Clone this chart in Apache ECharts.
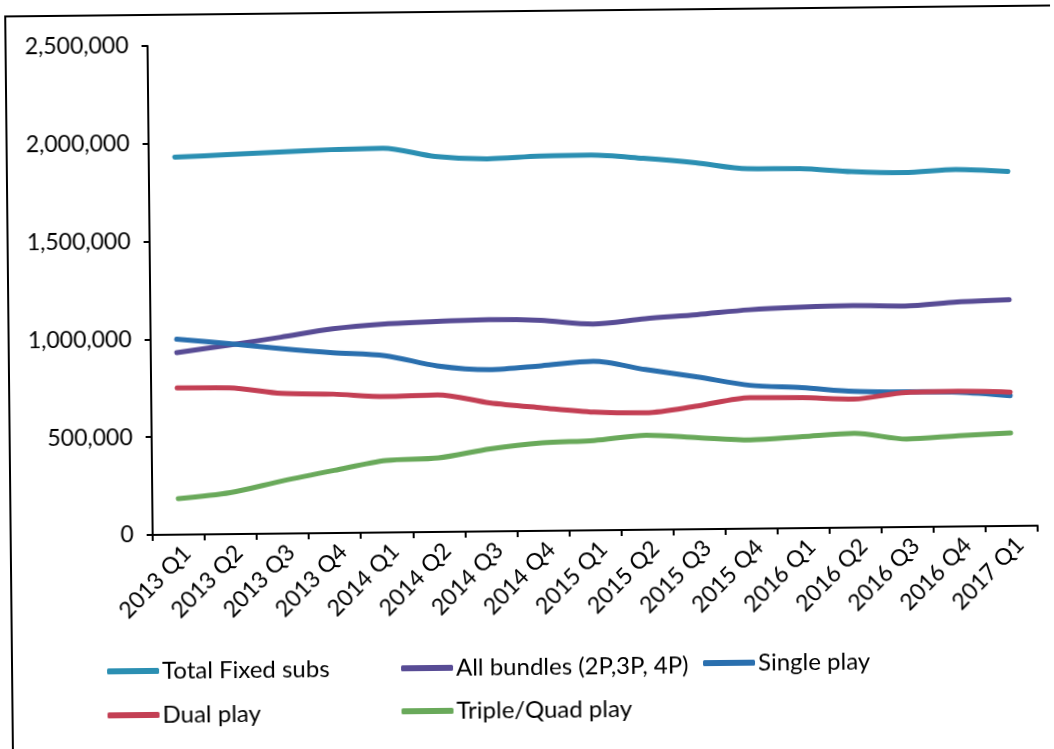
<!DOCTYPE html>
<html>
<head>
<meta charset="utf-8">
<script src="https://cdn.jsdelivr.net/npm/echarts@6/dist/echarts.min.js"></script>
<style>
  html, body { margin: 0; padding: 0; background: #fff; overflow: hidden; }
  #chart { width: 1054px; height: 749px; transform: rotate(-0.6deg); transform-origin: 50% 50%; background: #fff; }
</style>
</head>
<body>
<div id="chart"></div>
<script>
// Fixed-line subscriptions by quarter
const quarters = ['2013 Q1', '2013 Q2', '2013 Q3', '2013 Q4', '2014 Q1', '2014 Q2', '2014 Q3', '2014 Q4',
  '2015 Q1', '2015 Q2', '2015 Q3', '2015 Q4', '2016 Q1', '2016 Q2', '2016 Q3', '2016 Q4', '2017 Q1'];

const totalFixed = [1930000, 1940000, 1950000, 1960000, 1965000, 1920000, 1905000, 1916000,
  1918000, 1899000, 1874000, 1840000, 1838000, 1820000, 1812000, 1825000, 1812000];
const allBundles = [931000, 966000, 1004000, 1044000, 1066000, 1076000, 1082000, 1076000,
  1055000, 1079000, 1097000, 1119000, 1130000, 1135000, 1130000, 1148000, 1157000];
const singlePlay = [999000, 974000, 946000, 922000, 904000, 849000, 827000, 844000,
  864000, 819000, 778000, 733000, 718000, 696000, 691000, 686000, 666000];
const dualPlay = [750000, 748000, 717000, 710000, 695000, 701000, 657000, 629000,
  604000, 598000, 630000, 670000, 667000, 657000, 688000, 691000, 684000];
const tripleQuad = [184000, 212000, 269000, 320000, 368000, 378000, 422000, 450000,
  459000, 483000, 468000, 454000, 468000, 482000, 450000, 464000, 476000];

const yTicks = [0, 500000, 1000000, 1500000, 2000000, 2500000];

const seriesDefs = [
  { name: 'Total Fixed subs', data: totalFixed, color: '#2b8fb2' },
  { name: 'All bundles (2P,3P, 4P)', data: allBundles, color: '#584c95' },
  { name: 'Single play', data: singlePlay, color: '#2a6fae' },
  { name: 'Dual play', data: dualPlay, color: '#c33f54' },
  { name: 'Triple/Quad play', data: tripleQuad, color: '#69a95a' }
];

const font = 'Lato, "Open Sans", sans-serif';

// one legend block per entry so the two rows line up in columns
const legendSpots = [
  { left: 104, top: 655 },
  { left: 398, top: 655 },
  { left: 700, top: 653 },
  { left: 104, top: 699 },
  { left: 398, top: 698 }
];

const chart = echarts.init(document.getElementById('chart'), null, { renderer: 'canvas' });

chart.setOption({
  animation: false,
  backgroundColor: '#fff',
  graphic: [{
    type: 'polyline',
    shape: { points: [[1100, 11], [9, 11], [9, 751], [1100, 751]] },
    style: { fill: 'none', stroke: '#000', lineWidth: 2 },
    silent: true,
    z: -1
  }],
  grid: {
    left: 151, right: 18, top: 42, bottom: 218,
    containLabel: false,
    outerBoundsMode: 'none'
  },
  legend: seriesDefs.map((s, i) => ({
    data: [s.name],
    left: legendSpots[i].left,
    top: legendSpots[i].top,
    orient: 'horizontal',
    padding: 0,
    icon: 'roundRect',
    itemWidth: 52,
    itemHeight: 6,
    selectedMode: false,
    textStyle: { fontFamily: font, fontSize: 24, color: '#000', padding: [0, 0, 0, -2] }
  })),
  xAxis: {
    type: 'category',
    data: quarters,
    boundaryGap: true,
    axisLine: { show: true, lineStyle: { color: '#000', width: 2 } },
    axisTick: { show: true, alignWithLabel: false, length: 6, lineStyle: { color: '#000', width: 2 } },
    axisLabel: {
      rotate: 45, interval: 0, margin: 7, verticalAlign: 'top',
      fontFamily: font, fontSize: 23, color: '#000'
    },
    splitLine: { show: false }
  },
  yAxis: {
    type: 'value',
    min: yTicks[0],
    max: yTicks[yTicks.length - 1],
    interval: 500000,
    axisLine: { show: true, lineStyle: { color: '#000', width: 2 } },
    axisTick: { show: true, length: 6, lineStyle: { color: '#000', width: 2 } },
    axisLabel: {
      margin: 19, fontFamily: font, fontSize: 23, color: '#000',
      formatter: v => v.toLocaleString('en-US')
    },
    splitLine: { show: false }
  },
  series: seriesDefs.map(s => ({
    name: s.name,
    type: 'line',
    data: s.data,
    smooth: 0.3,
    showSymbol: false,
    symbol: 'none',
    color: s.color,
    lineStyle: { color: s.color, width: 5, cap: 'round', join: 'round' }
  }))
});
</script>
</body>
</html>
